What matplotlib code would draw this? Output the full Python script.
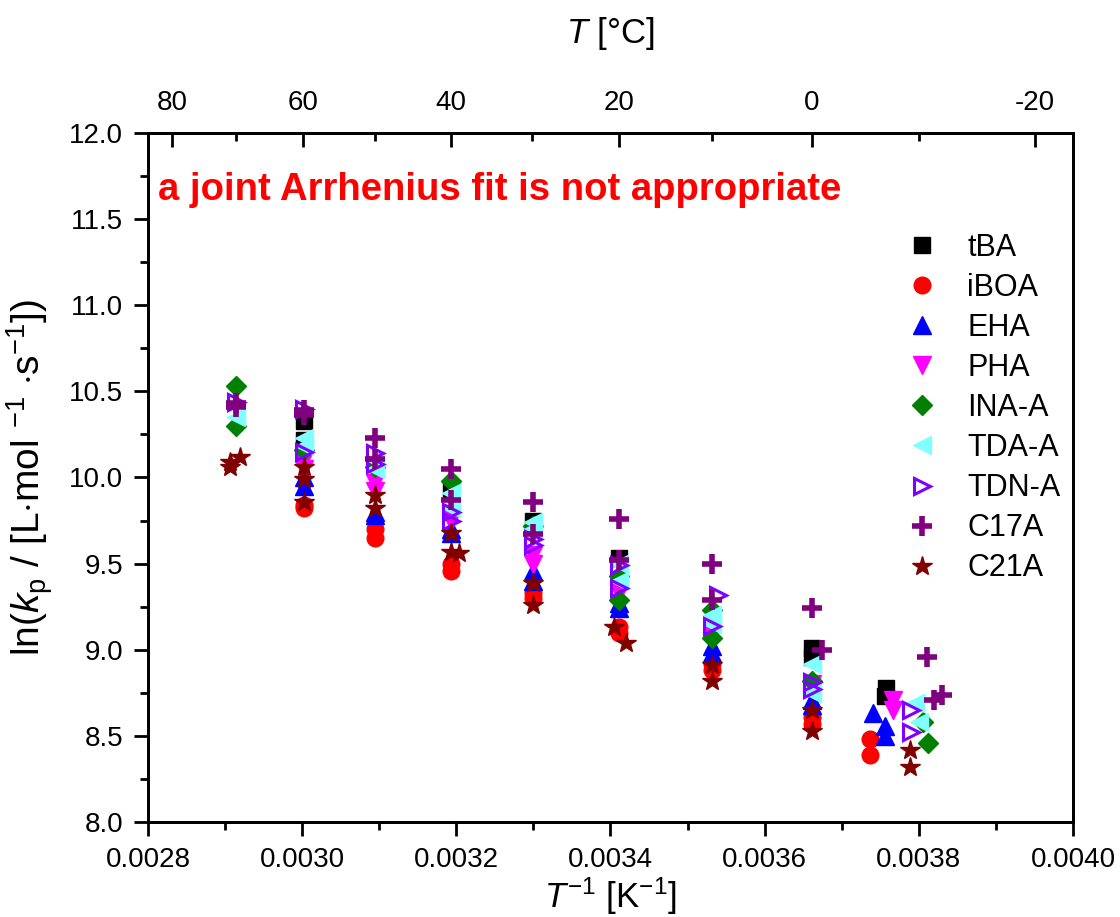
import matplotlib

matplotlib.use("Agg")
import matplotlib.pyplot as plt
from matplotlib.ticker import MultipleLocator

plt.rcParams["font.family"] = ["Liberation Sans", "DejaVu Sans"]
plt.rcParams["mathtext.fontset"] = "custom"
plt.rcParams["mathtext.rm"] = "Liberation Sans"
plt.rcParams["mathtext.it"] = "Liberation Sans:italic"
plt.rcParams["mathtext.bf"] = "Liberation Sans:bold"

# inverse temperature [1/K] and ln(kp) for each monomer
tba_x = [0.003002, 0.003002, 0.003193, 0.003299, 0.003411, 0.003661, 0.003661, 0.003758, 0.003756]
tba_y = [10.33, 10.22, 9.93, 9.75, 9.53, 9.01, 8.96, 8.78, 8.73]

iboa_x = [0.003002, 0.003002, 0.003095, 0.003095, 0.003193, 0.003193, 0.003299, 0.003299,
          0.003411, 0.003411, 0.003532, 0.003532, 0.003661, 0.003661, 0.003737, 0.003737]
iboa_y = [9.84, 9.82, 9.70, 9.65, 9.50, 9.46, 9.33, 9.30, 9.13, 9.10, 8.92, 8.88, 8.61, 8.57, 8.48, 8.39]

eha_x = [0.003002, 0.003002, 0.003095, 0.003095, 0.003193, 0.003193, 0.003299, 0.003299,
         0.003411, 0.003411, 0.003532, 0.003532, 0.003661, 0.003661, 0.003740, 0.003756, 0.003756]
eha_y = [9.95, 10.00, 9.78, 9.80, 9.68, 9.70, 9.46, 9.40, 9.24, 9.27, 9.02, 8.98, 8.71, 8.68, 8.63, 8.56, 8.50]

pha_x = [0.003002, 0.003002, 0.003095, 0.003095, 0.003193, 0.003193, 0.003299, 0.003299,
         0.003411, 0.003532, 0.003661, 0.003766, 0.003766]
pha_y = [10.10, 10.05, 9.97, 9.92, 9.78, 9.75, 9.55, 9.50, 9.33, 9.10, 8.80, 8.71, 8.65]

ina_x = [0.002914, 0.002914, 0.003002, 0.003095, 0.003193, 0.003299, 0.003411, 0.003411,
         0.003532, 0.003532, 0.003661, 0.003805, 0.003812]
ina_y = [10.53, 10.30, 10.16, 10.06, 9.98, 9.72, 9.43, 9.29, 9.23, 9.07, 8.82, 8.58, 8.46]

tda_x = [0.002914, 0.003002, 0.003002, 0.003095, 0.003095, 0.003193, 0.003193, 0.003299, 0.003299,
         0.003411, 0.003411, 0.003532, 0.003532, 0.003661, 0.003661, 0.003795, 0.003800]
tda_y = [10.35, 10.23, 10.18, 10.10, 10.05, 9.91, 9.82, 9.74, 9.70, 9.50, 9.40, 9.20, 9.15,
         8.92, 8.75, 8.69, 8.58]

tdn_x = [0.002914, 0.003002, 0.003002, 0.003095, 0.003095, 0.003193, 0.003193, 0.003299, 0.003299,
         0.003411, 0.003411, 0.003540, 0.003532, 0.003661, 0.003661, 0.003790, 0.003790]
tdn_y = [10.44, 10.40, 10.15, 10.14, 10.08, 9.80, 9.75, 9.64, 9.61, 9.49, 9.36, 9.32, 9.14,
         8.81, 8.77, 8.65, 8.52]

c17_x = [0.002914, 0.002914, 0.003002, 0.003002, 0.003095, 0.003095, 0.003193, 0.003193, 0.003299,
         0.003299, 0.003411, 0.003411, 0.003532, 0.003532, 0.003661, 0.003675, 0.003810, 0.003820,
         0.003830]
c17_y = [10.43, 10.41, 10.39, 10.36, 10.23, 10.11, 10.05, 9.87, 9.86, 9.67, 9.76, 9.52, 9.50,
         9.29, 9.24, 9.00, 8.96, 8.71, 8.74]

c21_x = [0.002919, 0.002906, 0.002906, 0.003002, 0.003002, 0.003002, 0.003095, 0.003095, 0.003193,
         0.003193, 0.003203, 0.003299, 0.003299, 0.003405, 0.003420, 0.003532, 0.003532, 0.003661,
         0.003661, 0.003788, 0.003788]
c21_y = [10.12, 10.09, 10.06, 10.06, 9.99, 9.86, 9.90, 9.82, 9.68, 9.57, 9.56, 9.39, 9.26, 9.13,
         9.04, 8.91, 8.82, 8.65, 8.53, 8.42, 8.32]

top_major_c = [80, 60, 40, 20, 0, -20]
top_minor_c = [70, 50, 30, 10, -10]

series = [
    ("tBA", tba_x, tba_y, dict(marker="s", color="black", markersize=11)),
    ("iBOA", iboa_x, iboa_y, dict(marker="o", color="red", markersize=12)),
    ("EHA", eha_x, eha_y, dict(marker="^", color="blue", markersize=13)),
    ("PHA", pha_x, pha_y, dict(marker="v", color="#FF00FF", markersize=13)),
    ("INA-A", ina_x, ina_y, dict(marker="D", color="#008000", markersize=10)),
    ("TDA-A", tda_x, tda_y, dict(marker="<", color="#80FFFF", markersize=13)),
    ("TDN-A", tdn_x, tdn_y, dict(marker=">", markerfacecolor="none", markeredgecolor="#8000FF",
                                 markeredgewidth=2.2, color="#8000FF", markersize=12)),
    ("C17A", c17_x, c17_y, dict(marker="+", color="#800080", markeredgewidth=4, markersize=15)),
    ("C21A", c21_x, c21_y, dict(marker="*", color="#800000", markersize=15)),
]

fig = plt.figure(figsize=(11.2, 9.17), dpi=100)
ax = fig.add_axes([0.1321, 0.1036, 0.8259, 0.7514])

for name, xs, ys, style in series:
    ax.plot(xs, ys, label=name, linestyle="none", **style)

ax.set_xlim(0.0028, 0.0040)
ax.set_ylim(8.0, 12.0)
ax.xaxis.set_major_locator(MultipleLocator(0.0002))
ax.xaxis.set_minor_locator(MultipleLocator(0.0001))
ax.yaxis.set_major_locator(MultipleLocator(0.5))
ax.yaxis.set_minor_locator(MultipleLocator(0.25))
ax.xaxis.set_major_formatter(plt.FuncFormatter(lambda v, p: f"{v:.4f}"))
ax.yaxis.set_major_formatter(plt.FuncFormatter(lambda v, p: f"{v:.1f}"))
ax.tick_params(which="major", direction="out", length=10, width=2, labelsize=20, pad=8)
ax.tick_params(which="minor", direction="out", length=6, width=2)
for sp in ax.spines.values():
    sp.set_linewidth(2)

ax.set_xlabel(r"$T^{-1}$ [K$^{-1}$]", fontsize=25, labelpad=2)
ax.set_ylabel(r"ln($k_\mathrm{p}$ / [L$\cdot$mol $^{-1}$ $\cdot$s$^{-1}$])", fontsize=28, labelpad=10)

# top axis in degrees Celsius
top = ax.twiny()
top.set_xlim(ax.get_xlim())
top.set_xticks([1.0 / (c + 273.15) for c in top_major_c])
top.set_xticklabels([str(c) for c in top_major_c])
top.set_xticks([1.0 / (c + 273.15) for c in top_minor_c], minor=True)
top.tick_params(which="major", direction="in", length=10, width=2, labelsize=20, pad=12)
top.tick_params(which="minor", direction="in", length=6, width=2)
top.set_xlabel(r"$T$ [°C]", fontsize=25, labelpad=34)
for sp in top.spines.values():
    sp.set_linewidth(2)

ax.text(0.0028 + 0.000013, 11.67, "a joint Arrhenius fit is not appropriate",
        color="red", fontsize=27.5, fontweight="bold", va="center", ha="left")

leg = ax.legend(loc="upper right", bbox_to_anchor=(1.0, 0.873), frameon=False, fontsize=22,
                handletextpad=1.0, labelspacing=0.33, borderaxespad=0.0, handlelength=1.0)

fig.savefig("out.png", dpi=100)
